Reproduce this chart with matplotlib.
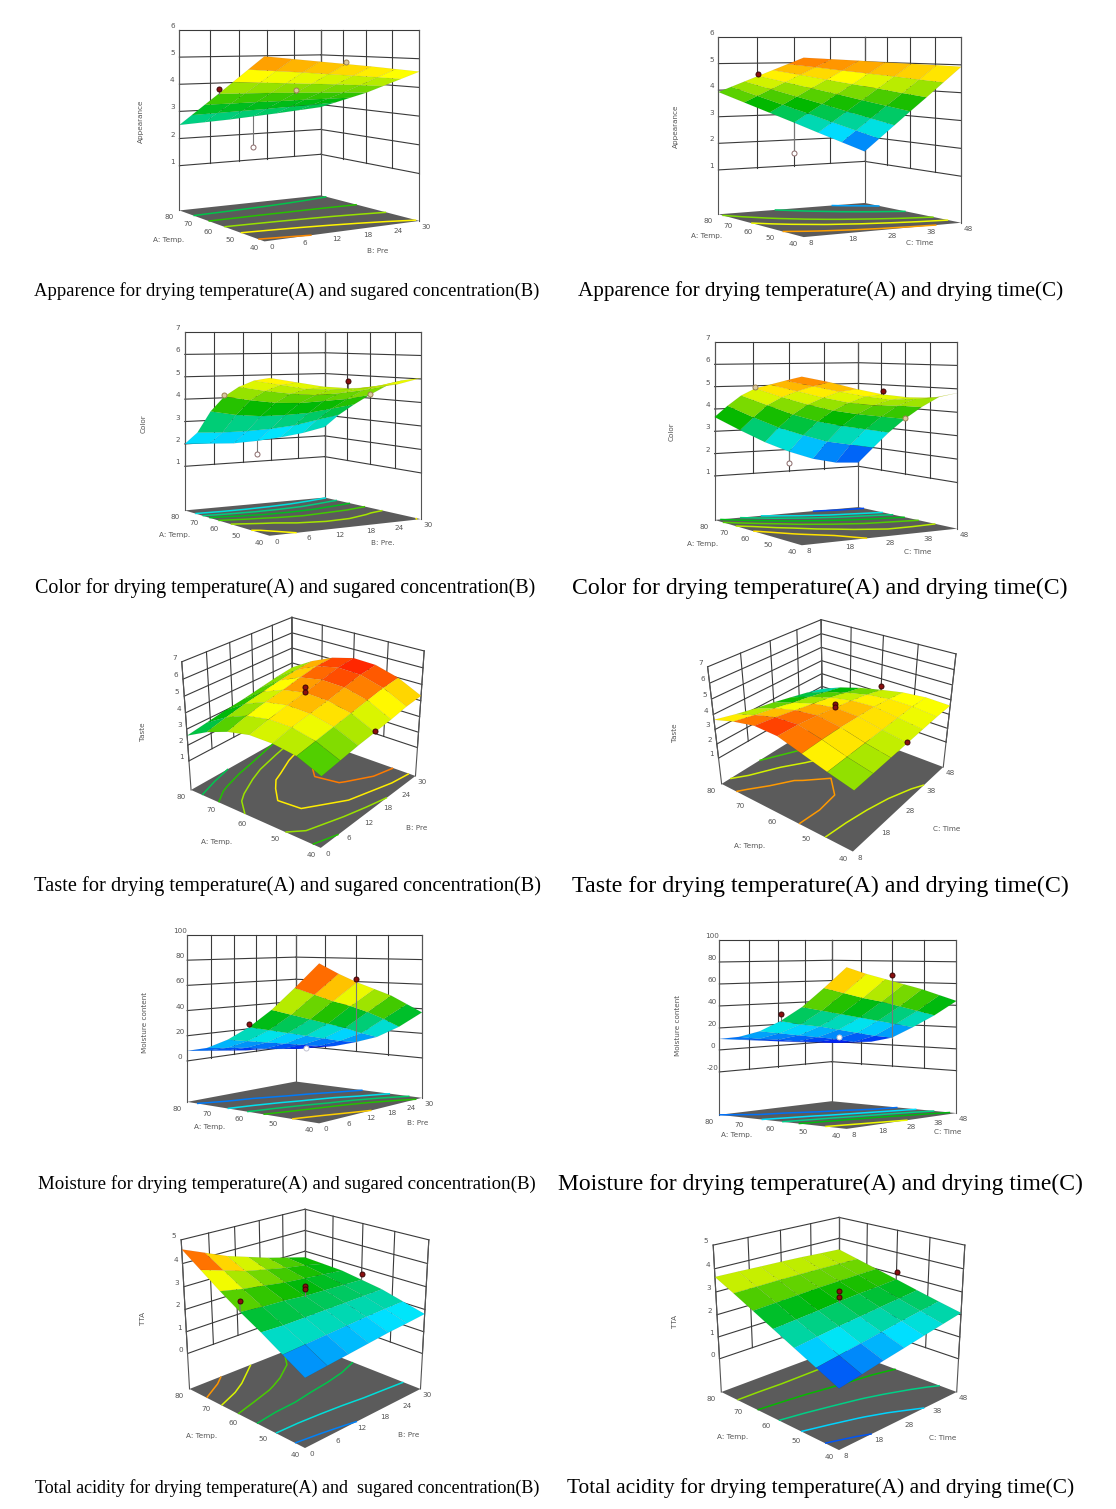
import numpy as np
import matplotlib
matplotlib.use('Agg')
import matplotlib.pyplot as plt
from matplotlib.colors import LinearSegmentedColormap
from mpl_toolkits.mplot3d import proj3d

temp = [40, 46.67, 53.33, 60, 66.67, 73.33, 80]
pre = [0, 5, 10, 15, 20, 25, 30]
tim = [8, 14.67, 21.33, 28, 34.67, 41.33, 48]
temp_ticks = [80, 70, 60, 50, 40]
pre_ticks = [0, 6, 12, 18, 24, 30]
time_ticks = [8, 18, 28, 38, 48]

appearance_pre = [
    [5.17, 5.07, 4.97, 4.87, 4.77, 4.66, 4.55],
    [4.72, 4.65, 4.58, 4.50, 4.42, 4.34, 4.25],
    [4.27, 4.22, 4.17, 4.12, 4.07, 4.01, 3.95],
    [3.82, 3.80, 3.78, 3.75, 3.72, 3.69, 3.65],
    [3.38, 3.38, 3.39, 3.39, 3.40, 3.40, 3.40],
    [2.94, 2.97, 3.00, 3.03, 3.07, 3.11, 3.15],
    [2.50, 2.55, 2.60, 2.67, 2.74, 2.82, 2.90]]
appearance_time = [
    [5.31, 5.25, 5.19, 5.12, 5.06, 5.00, 4.93],
    [5.08, 4.96, 4.83, 4.71, 4.59, 4.46, 4.34],
    [4.85, 4.67, 4.48, 4.30, 4.12, 3.93, 3.75],
    [4.62, 4.38, 4.14, 3.90, 3.65, 3.41, 3.17],
    [4.39, 4.09, 3.79, 3.49, 3.18, 2.88, 2.58],
    [4.16, 3.80, 3.44, 3.08, 2.71, 2.35, 1.99],
    [3.93, 3.51, 3.09, 2.67, 2.24, 1.82, 1.40]]
color_pre = [
    [5.20, 5.00, 4.80, 4.70, 4.70, 4.80, 5.04],
    [5.05, 4.85, 4.65, 4.60, 4.60, 4.70, 4.90],
    [4.75, 4.55, 4.40, 4.30, 4.35, 4.45, 4.60],
    [4.30, 4.10, 3.95, 3.90, 3.95, 4.00, 4.15],
    [3.60, 3.40, 3.30, 3.30, 3.35, 3.50, 3.65],
    [2.60, 2.55, 2.55, 2.60, 2.70, 2.90, 3.10],
    [2.00, 1.95, 1.90, 1.95, 2.05, 2.20, 2.43]]
color_time = [
    [5.64, 5.40, 5.10, 4.85, 4.70, 4.65, 4.82],
    [5.45, 5.20, 4.95, 4.72, 4.55, 4.55, 4.60],
    [5.25, 4.95, 4.65, 4.40, 4.25, 4.20, 4.10],
    [5.05, 4.65, 4.30, 4.00, 3.80, 3.65, 3.50],
    [4.70, 4.25, 3.80, 3.45, 3.20, 3.00, 2.80],
    [4.20, 3.65, 3.15, 2.75, 2.40, 2.20, 2.00],
    [3.64, 3.00, 2.40, 1.90, 1.50, 1.25, 1.18]]
taste_pre = [
    [3.30, 3.50, 3.70, 3.85, 4.00, 4.20, 4.30],
    [3.90, 4.10, 4.30, 4.50, 4.70, 4.90, 5.00],
    [4.10, 4.40, 4.60, 4.80, 5.05, 5.30, 5.40],
    [4.10, 4.40, 4.65, 4.85, 5.10, 5.35, 5.45],
    [3.80, 4.15, 4.40, 4.60, 4.85, 5.05, 5.10],
    [3.30, 3.60, 3.85, 4.05, 4.25, 4.40, 4.50],
    [2.60, 2.80, 3.00, 3.15, 3.35, 3.55, 3.70]]
taste_time = [
    [3.05, 3.15, 3.25, 3.35, 3.45, 3.55, 3.60],
    [3.45, 3.50, 3.55, 3.60, 3.65, 3.70, 3.65],
    [3.90, 3.95, 3.95, 3.90, 3.85, 3.70, 3.50],
    [4.35, 4.30, 4.15, 3.95, 3.75, 3.50, 3.20],
    [4.40, 4.20, 3.95, 3.70, 3.45, 3.15, 2.85],
    [4.10, 3.80, 3.55, 3.25, 3.00, 2.70, 2.40],
    [3.65, 3.30, 3.00, 2.75, 2.45, 2.15, 1.80]]
moisture_pre = [
    [80, 72, 65, 59, 53, 45, 37],
    [62, 56, 50, 45, 39, 32, 24],
    [45, 40, 35, 30, 25, 19, 14],
    [31, 27, 23, 19, 15, 11, 8],
    [20, 17, 14, 11, 8, 5, 3],
    [12, 10, 8, 5, 3, 1, 0],
    [8, 6, 4, 2, 1, -1, -2]]
moisture_time = [
    [77, 71, 66, 61, 56, 50, 44],
    [59, 54, 49, 45, 40, 35, 30],
    [42, 38, 34, 30, 26, 22, 18],
    [29, 25, 22, 18, 14, 10, 7],
    [19, 16, 13, 10, 7, 3, 2],
    [13, 10, 8, 5, 3, 1, 0],
    [10, 8, 6, 4, 2, 1, 0]]
tta_pre = [
    [1.25, 1.35, 1.45, 1.55, 1.65, 1.72, 1.80],
    [1.80, 1.85, 1.90, 1.95, 2.00, 2.03, 2.05],
    [2.35, 2.30, 2.30, 2.30, 2.30, 2.30, 2.30],
    [2.85, 2.75, 2.70, 2.60, 2.55, 2.50, 2.45],
    [3.40, 3.20, 3.05, 2.90, 2.80, 2.70, 2.60],
    [4.00, 3.70, 3.40, 3.20, 3.00, 2.85, 2.65],
    [4.60, 4.20, 3.80, 3.50, 3.20, 2.95, 2.70]]
tta_time = [
    [0.97, 1.15, 1.35, 1.53, 1.72, 1.90, 2.08],
    [1.42, 1.57, 1.72, 1.87, 2.03, 2.17, 2.30],
    [1.87, 2.00, 2.12, 2.22, 2.33, 2.43, 2.53],
    [2.32, 2.40, 2.48, 2.58, 2.65, 2.70, 2.77],
    [2.77, 2.82, 2.87, 2.92, 2.95, 2.98, 3.00],
    [3.22, 3.23, 3.25, 3.25, 3.25, 3.24, 3.23],
    [3.65, 3.63, 3.60, 3.58, 3.55, 3.50, 3.46]]

# design points: temperature, second factor, response, kind (r red, t tan, o open, w white)
pts_app_pre = [(60, 0, 4.0, 'r'), (60, 15, 3.85, 't'), (60, 15, 3.65, 't'), (80, 15, 1.5, 'o'), (40, 15, 4.95, 't')]
pts_app_time = [(60, 8, 4.7, 'r'), (60, 28, 3.85, 't'), (60, 28, 3.6, 't'), (80, 28, 1.47, 'o'), (40, 28, 4.85, 't')]
pts_col_pre = [(60, 0, 4.35, 't'), (40, 15, 5.0, 'r'), (80, 15, 1.33, 'o'), (60, 30, 4.2, 't')]
pts_col_time = [(40, 28, 5.0, 'r'), (80, 28, 1.35, 'o'), (60, 48, 3.55, 't'), (60, 8, 5.1, 't')]
pts_tas_pre = [(60, 15, 5.2, 'r'), (60, 15, 4.9, 'r'), (40, 15, 3.95, 'r')]
pts_tas_time = [(60, 48, 3.5, 'r'), (60, 28, 4.2, 'r'), (60, 28, 4.0, 'r'), (40, 28, 3.4, 'r'), (80, 28, 1.9, 'o')]
pts_moi_pre = [(60, 0, 33, 'r'), (60, 30, 62, 'r'), (60, 15, 9, 'w')]
pts_moi_time = [(60, 8, 35, 'r'), (60, 48, 67, 'r'), (60, 28, 11, 'w')]
pts_tta_pre = [(60, 0, 3.3, 'r'), (60, 15, 3.05, 'r'), (60, 15, 2.9, 'r'), (60, 30, 2.7, 'r')]
pts_tta_time = [(60, 48, 3.1, 'r'), (60, 28, 3.05, 'r'), (60, 28, 2.8, 'r'), (80, 28, 0.1, 'o')]

captions = [
    "Apparence for drying temperature(A) and sugared concentration(B)",
    "Apparence for drying temperature(A) and drying time(C)",
    "Color for drying temperature(A) and sugared concentration(B)",
    "Color for drying temperature(A) and drying time(C)",
    "Taste for drying temperature(A) and sugared concentration(B)",
    "Taste for drying temperature(A) and drying time(C)",
    "Moisture for drying temperature(A) and sugared concentration(B)",
    "Moisture for drying temperature(A) and drying time(C)",
    "Total acidity for drying temperature(A) and  sugared concentration(B)",
    "Total acidity for drying temperature(A) and drying time(C)",
]

W, H = 1116, 1509
SCALE = 3.0
S = 370 * SCALE
cm = LinearSegmentedColormap.from_list('de', [(0, 0, 0.95), (0, 0.9, 1), (0, 0.72, 0), (1, 1, 0), (1, 0.05, 0)])

fig = plt.figure(figsize=(W / 100, H / 100), dpi=100, facecolor='white')


def panel(Z, x2, x2ticks, name2, zname, zticks, levels, pts, vr, az, el, f, s, zs, zf, zlook,
          cx, cy, zlab_xy, alab_xy, blab_xy):
    ax = fig.add_axes([(cx - S * 0.95 / 1.85) / W, (H - cy - S * 0.95 / 1.85) / H, S / W, S / H],
                      projection='3d', computed_zorder=False)
    ax.set_facecolor('none')
    ax.set_axis_off()
    Z = np.array(Z, float)
    X, Y = np.meshgrid(x2, temp)
    x0, x1, y0, y1 = x2[0], x2[-1], temp[0], temp[-1]
    lo, hi = zticks[0], zticks[-1]
    lk = dict(color='#3a3a3a', lw=0.8, zorder=1)
    for z in zticks:
        ax.plot([x0, x1], [y1, y1], [z, z], **lk)
        ax.plot([x1, x1], [y1, y0], [z, z], **lk)
    for t in x2ticks:
        ax.plot([t, t], [y1, y1], [lo, hi], **lk)
    for t in temp_ticks:
        ax.plot([x1, x1], [t, t], [lo, hi], **lk)
    for px, py in [(x0, y1), (x1, y1), (x1, y0)]:
        ax.plot([px, px], [py, py], [zf, hi], color='#555555', lw=0.8, zorder=1)
    FX, FY = np.meshgrid([x0, x1], [y0, y1])
    ax.plot_surface(FX, FY, np.full(FX.shape, zf), color='#5b5b5b', shade=False, zorder=2, linewidth=0)
    ax.contour(X, Y, Z, levels=levels, zdir='z', offset=zf, cmap=cm, vmin=vr[0], vmax=vr[1],
               linewidths=1.1, zorder=3)
    for a, b, z, k in pts:
        zsurf = Z[temp.index(a), x2.index(b)]
        zo = 4 if (z < zsurf and k != 'w') else 6
        if k != 'w':
            ax.plot([b, b], [a, a], [z, zsurf], color='#777777', lw=0.8, zorder=zo)
        sty = {'r': dict(mfc='#8a0f0f', mec='#3a0505'), 't': dict(mfc='#d9c9a0', mec='#9a8050'),
               'o': dict(mfc='white', mec='#8a6a6a'), 'w': dict(mfc='white', mec='#c0c0d0')}[k]
        ax.plot([b], [a], [z], 'o', ms=3.6, mew=0.7, zorder=zo + 0.5, **sty)
    ax.plot_surface(X, Y, Z, cmap=cm, vmin=vr[0], vmax=vr[1], rstride=1, cstride=1, shade=False,
                    linewidth=0.25, edgecolor=(0, 0, 0, 0.12), zorder=5)
    zhi = 2 * zlook - zf
    dims = np.array([s, s, (zhi - zf) * zs]) / SCALE
    ax.set_box_aspect(dims, zoom=np.linalg.norm(dims) / 1.9057)
    ax.set_proj_type('persp', focal_length=f / SCALE)
    ax.view_init(elev=el, azim=az, roll=0)
    ax.set_xlim(x0, x1, view_margin=0)
    ax.set_ylim(y0, y1, view_margin=0)
    ax.set_zlim(zf, zhi, view_margin=0)
    M = ax.get_proj()

    def label(x, y, z, s_, dx, dy):
        u, v, _ = proj3d.proj_transform(x, y, z, M)
        ax.annotate(str(s_), (u, v), xytext=(dx * 0.72, -dy * 0.72), textcoords='offset points',
                    fontsize=5.2, color='#555555', ha='center', va='center', annotation_clip=False, zorder=8)
    for z in zticks:
        label(x0, y1, z, z, -7, -4)
    for t in temp_ticks:
        label(x0, t, zf, t, -10, 7)
    for t in x2ticks:
        label(t, y0, zf, t, 7, 6)
    tx = dict(fontsize=5.2, color='#555555', ha='center', va='center')
    fig.text(zlab_xy[0] / W, 1 - zlab_xy[1] / H, zname, rotation=90, **tx)
    fig.text(alab_xy[0] / W, 1 - alab_xy[1] / H, 'A: Temp.', **tx)
    fig.text(blab_xy[0] / W, 1 - blab_xy[1] / H, name2, **tx)


z6 = [1, 2, 3, 4, 5, 6]
z7 = [1, 2, 3, 4, 5, 6, 7]
z5 = [0, 1, 2, 3, 4, 5]
panel(appearance_pre, pre, pre_ticks, 'B: Pre', 'Appearance', z6, [2.5, 3, 3.5, 4, 4.5, 5], pts_app_pre, (1.05, 5.6),
      -122, 0, 0.49, 0.87, 0.1395, -0.65, 6, 296, 30, (141, 121), (169, 240), (378, 251))
panel(appearance_time, tim, time_ticks, 'C: Time', 'Appearance', z6, [2, 3, 4, 4.5, 5], pts_app_time, (1.2, 5.7),
      -121, 0, 0.65, 0.884, 0.136, -0.67, 6, 837, 37, (676, 126), (707, 236), (920, 243))
panel(color_pre, pre, pre_ticks, 'B: Pre.', 'Color', z7, [2.5, 3, 3.5, 4, 4.5, 5], pts_col_pre, (1.0, 6.3),
      -122, 0, 0.57, 0.856, 0.1146, -0.97, 7, 300, 332, (144, 424), (175, 535), (383, 543))
panel(color_time, tim, time_ticks, 'C: Time', 'Color', z7, [1.5, 2.5, 3, 3.5, 4, 4.5, 5], pts_col_time, (1.1, 6.1),
      -122, 0, 0.585, 0.88, 0.1143, -0.97, 7, 833, 342, (672, 432), (703, 544), (918, 552))
panel(taste_pre, pre, pre_ticks, 'B: Pre', 'Taste', z7, [3, 3.5, 4, 4.5, 5], pts_tas_pre, (1.2, 5.5),
      -142, 26, 0.4, 0.83, 0.089, -0.9, 3.05, 305, 722, (143, 732), (217, 842), (417, 828))
panel(taste_time, tim, time_ticks, 'C: Time', 'Taste', z7, [2.5, 3, 3.5, 4], pts_tas_time, (1.1, 4.5),
      -142.6, 29, 0.28, 0.835, 0.083, -0.9, 3.05, 835, 721, (675, 733), (750, 846), (947, 829))
panel(moisture_pre, pre, pre_ticks, 'B: Pre', 'Moisture content', [0, 20, 40, 60, 80, 100], [10, 20, 30, 40, 60], pts_moi_pre, (0, 75),
      -140.6, 0, 0.47, 0.834, 0.00622, -32.5, 100, 306, 935, (145, 1022), (210, 1127), (418, 1123))
panel(moisture_time, tim, time_ticks, 'C: Time', 'Moisture content', [-20, 0, 20, 40, 60, 80, 100], [10, 20, 30, 40, 60], pts_moi_time, (0, 82),
      -138.6, 0, 0.75, 0.84, 0.00547, -59, 100, 838.5, 940, (678, 1025), (737, 1135), (948, 1132))
panel(tta_pre, pre, pre_ticks, 'B: Pre', 'TTA', z5, [1.5, 2, 2.5, 3, 3.5, 4], pts_tta_pre, (1.0, 4.5),
      -135, 21.5, 0.42, 0.845, 0.12, -1.67, 1.665, 305, 1317, (143, 1318), (202, 1436), (409, 1435))
panel(tta_time, tim, time_ticks, 'C: Time', 'TTA', z5, [1.25, 1.75, 2.25, 2.75, 3.25], pts_tta_time, (0.9, 4.55),
      -135, 20, 0.4, 0.86, 0.119, -1.56, 1.72, 839, 1321, (675, 1321), (733, 1437), (943, 1438))

spans = [(32, 541, 291), (578, 1064, 291), (33, 538, 588), (571, 1068, 588), (33, 541, 886),
         (571, 1070, 886), (37, 536, 1184), (556, 1084, 1184), (33, 541, 1488), (567, 1075, 1488)]
r = fig.canvas.get_renderer()
for txt, (a, b, y) in zip(captions, spans):
    t = fig.text((a + b) / 2 / W, 1 - y / H, txt, family='Liberation Serif', fontsize=15, color='black', ha='center', va='center')
    t.set_fontsize(15 * (b - a) / t.get_window_extent(r).width)

fig.savefig('out.png', dpi=100, facecolor='white')
